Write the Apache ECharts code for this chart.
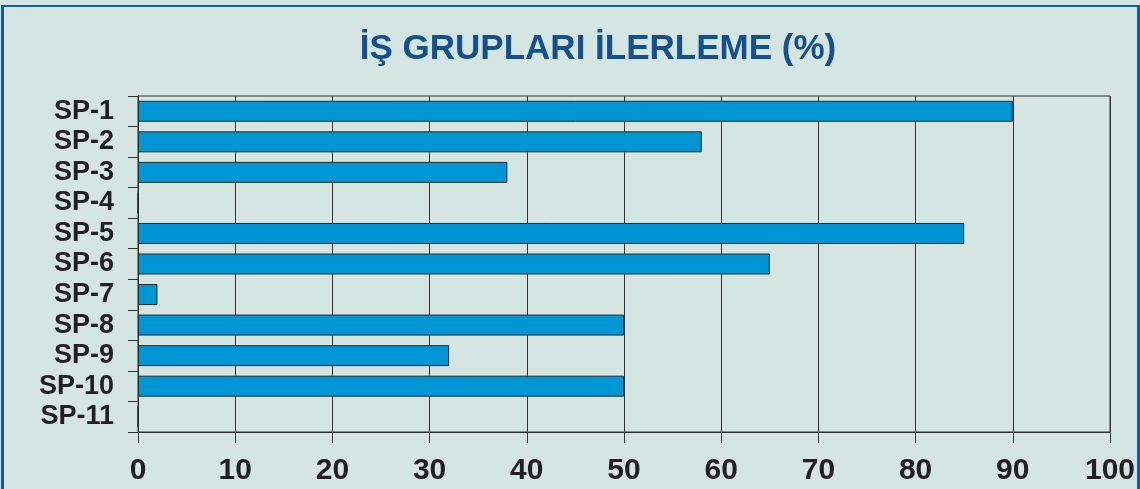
<!DOCTYPE html>
<html>
<head>
<meta charset="utf-8">
<script src="https://cdn.jsdelivr.net/npm/echarts@6/dist/echarts.min.js"></script>
<style>
  html, body { margin: 0; padding: 0; background: #d5e5e1; }
  #wrap { position: relative; width: 1140px; height: 489px; overflow: hidden; }
  #chart { position: absolute; left: 0; top: 0; width: 1140px; height: 489px; }
  #frame {
    position: absolute; left: 1px; top: 5px; width: 1133px; height: 500px;
    border-left: 3px solid #1a5a98; border-right: 3px solid #1a5a98; border-top: 2px solid #1a5a98;
    pointer-events: none;
  }
</style>
</head>
<body>
<div id="wrap">
  <div id="chart"></div>
  <div id="frame"></div>
</div>
<script>
// Work groups and their completion percentages
const categories = ['SP-1', 'SP-2', 'SP-3', 'SP-4', 'SP-5', 'SP-6', 'SP-7', 'SP-8', 'SP-9', 'SP-10', 'SP-11'];
const progress = [90, 58, 38, 0, 85, 65, 2, 50, 32, 50, 0];
const titleText = 'İŞ GRUPLARI İLERLEME (%)';

const chart = echarts.init(document.getElementById('chart'), null, { renderer: 'canvas' });
const ink = '#231f20';
const lineCol = '#333333';
const font = 'Liberation Sans, Arial, sans-serif';

chart.setOption({
  backgroundColor: '#d5e5e1',
  animation: false,
  title: {
    text: titleText,
    left: 593,
    top: 27,
    textAlign: 'center',
    textStyle: { color: '#12508e', fontSize: 35, fontWeight: 'bold', fontFamily: font }
  },
  grid: {
    left: 138, right: 30, top: 96, bottom: 57,
    show: true, borderColor: lineCol, borderWidth: 1, backgroundColor: 'transparent'
  },
  xAxis: {
    type: 'value',
    min: 0, max: 100, interval: 10,
    axisLine: { show: true, lineStyle: { color: lineCol, width: 1 } },
    axisTick: { show: true, length: 11, lineStyle: { color: lineCol, width: 1 } },
    splitLine: { show: true, lineStyle: { color: lineCol, width: 1 } },
    axisLabel: { color: ink, fontSize: 30, fontWeight: 'bold', margin: 24, fontFamily: font }
  },
  yAxis: {
    type: 'category',
    data: categories,
    inverse: true,
    axisLine: { show: true, lineStyle: { color: lineCol, width: 1 } },
    axisTick: { show: true, length: 10, interval: 0, lineStyle: { color: lineCol, width: 1 } },
    axisLabel: { interval: 0, color: ink, fontSize: 27, fontWeight: 'bold', margin: 24, fontFamily: font },
    splitLine: { show: false }
  },
  series: [{
    type: 'bar',
    data: progress,
    barWidth: 21,
    itemStyle: { color: '#0096d6', borderColor: '#2a2a2a', borderWidth: 1 }
  }]
});
</script>
</body>
</html>
